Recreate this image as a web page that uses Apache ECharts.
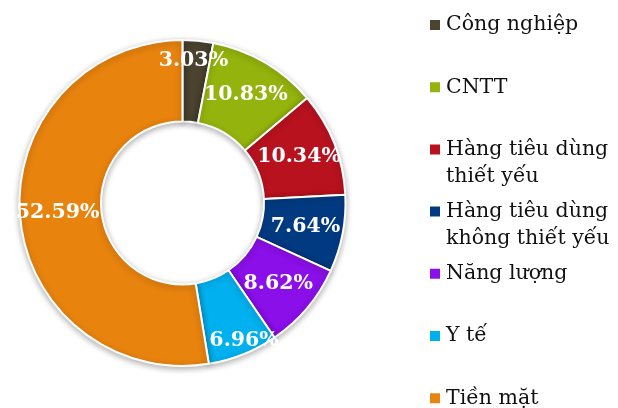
<!DOCTYPE html>
<html>
<head>
<meta charset="utf-8">
<script src="https://cdn.jsdelivr.net/npm/echarts@6/dist/echarts.min.js"></script>
<style>html,body{margin:0;padding:0;background:#fff}#c{width:618px;height:408px}</style>
</head>
<body>
<div id="c"></div>
<script>
const categories = ['Công nghiệp', 'CNTT', 'Hàng tiêu dùng thiết yếu', 'Hàng tiêu dùng không thiết yếu', 'Năng lượng', 'Y tế', 'Tiền mặt'];
const legendLines = [['Công nghiệp'], ['CNTT'], ['Hàng tiêu dùng', 'thiết yếu'], ['Hàng tiêu dùng', 'không thiết yếu'], ['Năng lượng'], ['Y tế'], ['Tiền mặt']];
const values = [3.03, 10.83, 10.34, 7.64, 8.62, 6.96, 52.59];
const colors = ['#4B4330', '#94B30D', '#B8121E', '#023A82', '#8A0FE8', '#01B0EE', '#E8830E'];
const labelOffsets = [[-1, -18], [0, 0], [0, 0], [0, 0], [0, 0], [15, 21], [0, 0]];

const FONT = 'DejaVu Serif';
const LH = 27;
const chart = echarts.init(document.getElementById('c'), null, {renderer: 'canvas'});

const legends = categories.map((name, i) => {
  const lines = legendLines[i];
  const multi = lines.length > 1;
  const boxH = multi ? LH * 3 : LH;
  const iconCenter = 25 + i * 62.2;
  return {
    orient: 'vertical',
    left: 428,
    top: iconCenter - boxH / 2,
    itemWidth: 12,
    itemHeight: 12,
    itemGap: 0,
    padding: 0,
    icon: 'rect',
    selectedMode: false,
    data: [name],
    formatter: () => multi
      ? '{s| }\n{t|' + lines[0] + '}\n{t|' + lines[1] + '}'
      : '{t|' + lines[0] + '}',
    textStyle: {
      fontFamily: FONT,
      fontSize: 20.5,
      color: '#111',
      rich: {
        s: {fontFamily: FONT, fontSize: 20.5, lineHeight: LH, height: LH},
        t: {fontFamily: FONT, fontSize: 20.5, lineHeight: LH, height: LH, color: '#111'}
      }
    }
  };
});

chart.setOption({
  animation: false,
  color: colors,
  legend: legends,
  series: [{
    type: 'pie',
    center: [182.5, 203],
    radius: [81.5, 163],
    startAngle: 90,
    clockwise: true,
    avoidLabelOverlap: false,
    labelLayout: {hideOverlap: false},
    data: categories.map((n, i) => ({
      name: n, value: values[i],
      label: {offset: labelOffsets[i]}
    })),
    itemStyle: {
      borderColor: '#fff',
      borderWidth: 2,
      shadowBlur: 6,
      shadowColor: 'rgba(0,0,0,0.3)',
      shadowOffsetY: 2
    },
    label: {
      show: true,
      position: 'inside',
      formatter: p => p.value.toFixed(2) + '%',
      fontFamily: FONT,
      fontWeight: 'bold',
      fontSize: 20.5,
      color: '#fff'
    },
    labelLine: {show: false},
    emphasis: {disabled: true}
  }]
});
</script>
</body>
</html>
